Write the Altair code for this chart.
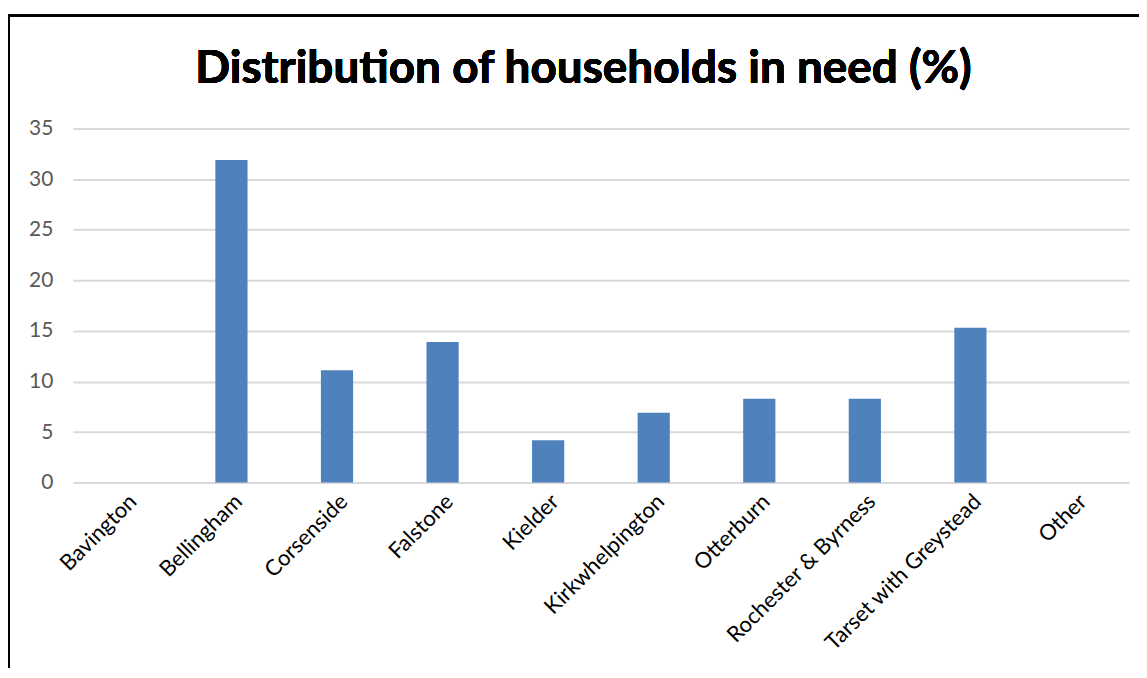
import altair as alt
import pandas as pd

categories = ["Bavington", "Bellingham", "Corsenside", "Falstone", "Kielder",
              "Kirkwhelpington", "Otterburn", "Rochester & Byrness",
              "Tarset with Greystead", "Other"]
values = [0, 31.9, 11.1, 13.9, 4.2, 6.9, 8.3, 8.3, 15.3, 0]

df = pd.DataFrame({"area": categories, "pct": values})

W, H = 1059, 355
FONT = "Lato"

bars = alt.Chart(df).mark_bar(color="#4F81BD").encode(
    x=alt.X("area:N", sort=categories, title=None,
            scale=alt.Scale(paddingInner=0.695, paddingOuter=0.35),
            axis=alt.Axis(labelAngle=-45, labelAlign="right", labelBaseline="top",
                          labelFontSize=22, labelColor="#000000", labelFont=FONT,
                          ticks=False, domain=False, labelPadding=8,
                          labelOffset=0, labelOverlap=False, labelLimit=0)),
    y=alt.Y("pct:Q", title=None,
            scale=alt.Scale(domain=[0, 35], nice=False),
            axis=alt.Axis(values=[0, 5, 10, 15, 20, 25, 30, 35], labelFontSize=21,
                          labelColor="#595959", labelFont=FONT, ticks=False,
                          domain=False, gridColor="#D9D9D9", gridWidth=2,
                          labelPadding=20)),
)

border = alt.Chart(df).mark_rect(fill=None, stroke="black", strokeWidth=2, clip=False).encode(
    x=alt.value(-64), x2=alt.value(1200), y=alt.value(-113), y2=alt.value(700)
)

title = alt.Chart(df).mark_text(text="Distribution of households in need (%)",
                                font=FONT, fontSize=46, fontWeight="bold",
                                color="#000000", baseline="middle").encode(
    x=alt.value(512), y=alt.value(-60)
)

chart = alt.layer(bars, border, title).properties(
    width=W, height=H,
    padding={"left": 65, "top": 120, "right": 10, "bottom": 185},
    autosize=alt.AutoSizeParams(type="none"),
    background="white",
).configure_view(stroke=None)

chart.save("out.html", embed_options={"renderer": "svg", "actions": False})
